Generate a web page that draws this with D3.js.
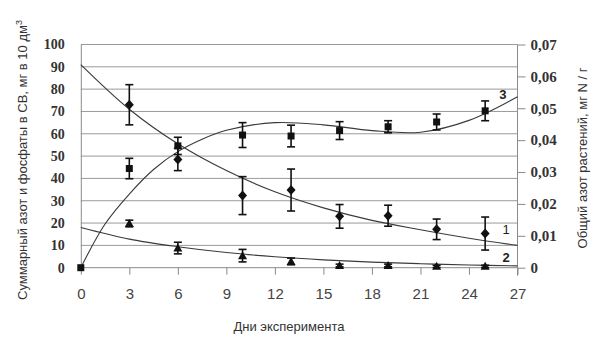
<!DOCTYPE html>
<html>
<head>
<meta charset="utf-8">
<script src="https://cdn.jsdelivr.net/npm/d3@7"></script>
<style>
  body { margin: 0; background: #fff; }
  svg { display: block; }
</style>
</head>
<body>
<script>
const width = 611; const height = 360;
const plotLeft = 80.8, plotRight = 517.5, plotTop = 44.5, plotBottom = 267.7;

// day ticks / y ticks
const xTicks = [0, 3, 6, 9, 12, 15, 18, 21, 24, 27];
const yLeftTicks = [0, 10, 20, 30, 40, 50, 60, 70, 80, 90, 100];
const yRightTicks = [0, 0.01, 0.02, 0.03, 0.04, 0.05, 0.06, 0.07];

// series 1 - diamonds (left axis)
const days1 = [3, 6, 10, 13, 16, 19, 22, 25];
const vals1 = [73, 48.5, 32.3, 34.8, 23, 23.3, 17.2, 15.3];
const err1 = [9, 5, 8.5, 9.4, 5.3, 4.7, 4.6, 7.4];

// series 2 - triangles (left axis)
const days2 = [3, 6, 10, 13, 16, 19, 22, 25];
const vals2 = [19.8, 8.8, 5.4, 2.8, 1, 1, 0.6, 0.6];
const err2 = [1.5, 2.6, 2.8, 1.5, 0.6, 0.6, 0.5, 0.5];

// series 3 - squares (right axis)
const days3 = [0, 3, 6, 10, 13, 16, 19, 22, 25];
const vals3 = [0, 0.0311, 0.0382, 0.0416, 0.0413, 0.043, 0.0442, 0.0457, 0.0492];
const err3 = [0, 0.0032, 0.0027, 0.0039, 0.0034, 0.0028, 0.0019, 0.0025, 0.0031];

// trend lines
const trendX1 = [0, 3, 6, 9, 12, 15, 18, 21, 24, 27];
const trendY1 = [91, 71, 55.5, 43.5, 34, 26.8, 21.2, 17, 13.2, 10];
const trendX2 = [0, 3, 6, 9, 12, 15, 18, 21, 24, 27];
const trendY2 = [18, 12.8, 9.4, 6.8, 4.9, 3.5, 2.5, 1.8, 1.2, 0.8];
const trendX3 = [0, 1.5, 3, 4.5, 6, 7.5, 9, 12, 15, 18, 21, 24, 27];
const trendY3 = [0, 0.0137, 0.0231, 0.0308, 0.0364, 0.0403, 0.0431, 0.0455, 0.0448, 0.0430, 0.0425, 0.0462, 0.0536];

const x = d3.scaleLinear().domain([0, 27]).range([plotLeft, plotRight]);
const yL = d3.scaleLinear().domain([0, 100]).range([plotBottom, plotTop]);
const yR = d3.scaleLinear().domain([0, 0.07]).range([plotBottom, plotTop]);

const svg = d3.select("body").append("svg")
    .attr("width", width)
    .attr("height", height);

// gridlines
svg.append("g")
    .selectAll("line")
    .data(yLeftTicks.slice(1))
    .enter()
    .append("line")
    .attr("x1", plotLeft).attr("x2", plotRight)
    .attr("y1", d => yL(d)).attr("y2", d => yL(d))
    .attr("stroke", "#9a9a9a")
    .attr("stroke-width", 1);

// left axis
const axL = svg.append("g")
    .attr("transform", "translate(" + plotLeft + ",0)")
    .call(d3.axisLeft(yL).tickValues(yLeftTicks).tickSize(0).tickPadding(16));
axL.select(".domain").attr("stroke", "#8a8a8a");
axL.selectAll("text")
    .attr("font-family", "Liberation Serif")
    .attr("font-weight", "bold")
    .attr("font-size", "14px")
    .attr("fill", "#333");

// right axis
const axR = svg.append("g")
    .attr("transform", "translate(" + plotRight + ",0)")
    .call(d3.axisRight(yR).tickValues(yRightTicks).tickSize(8).tickPadding(5)
        .tickFormat(d => d === 0 ? "0" : d3.format(".2f")(d).replace(".", ",")));
axR.select(".domain").attr("stroke", "#8a8a8a").attr("d", "M0," + plotTop + "V" + (plotBottom + 8));
axR.selectAll(".tick line").attr("stroke", "#8a8a8a");
axR.selectAll("text")
    .attr("font-family", "Liberation Serif")
    .attr("font-weight", "bold")
    .attr("font-size", "15px")
    .attr("fill", "#333");

// bottom axis
const axB = svg.append("g")
    .attr("transform", "translate(0," + plotBottom + ")")
    .call(d3.axisBottom(x).tickValues(xTicks).tickSize(7).tickPadding(14));
axB.select(".domain").attr("stroke", "#8a8a8a").attr("d", "M" + plotLeft + ",0H" + plotRight);
axB.selectAll(".tick line").attr("stroke", "#8a8a8a");
axB.selectAll("text")
    .attr("font-family", "Liberation Sans")
    .attr("font-size", "15px")
    .attr("fill", "#444");

// axis titles
svg.append("text")
    .attr("x", 289).attr("y", 331)
    .attr("text-anchor", "middle")
    .attr("font-family", "Liberation Sans")
    .attr("font-size", "13px")
    .attr("fill", "#333")
    .text("Дни эксперимента");

const tl = svg.append("text")
    .attr("transform", "translate(27,160) rotate(-90)")
    .attr("text-anchor", "middle")
    .attr("font-family", "Liberation Sans")
    .attr("font-size", "13px")
    .attr("fill", "#333");
tl.append("tspan").text("Суммарный азот и фосфаты в СВ, мг в 10 дм");
tl.append("tspan").attr("font-size", "9px").attr("dy", "-5").text("3");

svg.append("text")
    .attr("transform", "translate(587,158) rotate(-90)")
    .attr("text-anchor", "middle")
    .attr("font-family", "Liberation Sans")
    .attr("font-size", "13px")
    .attr("fill", "#333")
    .text("Общий азот растений, мг N / г");

// trend lines
function trend(xs, ys, yScale){
    const pts = xs.map((d, i) => [d, ys[i]]);
    svg.append("path")
        .datum(pts)
        .attr("d", d3.line()
            .x(d => x(d[0]))
            .y(d => yScale(d[1]))
            .curve(d3.curveCatmullRom))
        .attr("fill", "none")
        .attr("stroke", "#3a3a3a")
        .attr("stroke-width", 1.1);
}
trend(trendX1, trendY1, yL);
trend(trendX2, trendY2, yL);
trend(trendX3, trendY3, yR);

// error bars
function errorBars(xs, ys, es, yScale){
    const g = svg.append("g").attr("stroke", "#111").attr("stroke-width", 1.6);
    xs.forEach((d, i) => {
        if (!es[i]) return;
        const cx = x(d), y0 = yScale(ys[i] - es[i]), y1 = yScale(ys[i] + es[i]);
        g.append("line").attr("x1", cx).attr("x2", cx).attr("y1", y0).attr("y2", y1);
        g.append("line").attr("x1", cx - 4).attr("x2", cx + 4).attr("y1", y0).attr("y2", y0);
        g.append("line").attr("x1", cx - 4).attr("x2", cx + 4).attr("y1", y1).attr("y2", y1);
    });
}
errorBars(days1, vals1, err1, yL);
errorBars(days2, vals2, err2, yL);
errorBars(days3, vals3, err3, yR);

// markers
svg.append("g").selectAll("path")
    .data(days1)
    .enter()
    .append("path")
    .attr("d", (d, i) => {
        const cx = x(d), cy = yL(vals1[i]);
        return "M" + cx + "," + (cy - 5) + "L" + (cx + 4.5) + "," + cy + "L" + cx + "," + (cy + 5) + "L" + (cx - 4.5) + "," + cy + "Z";
    })
    .attr("fill", "#111");

svg.append("g").selectAll("path")
    .data(days2)
    .enter()
    .append("path")
    .attr("d", (d, i) => {
        const cx = x(d), cy = yL(vals2[i]);
        return "M" + cx + "," + (cy - 4.5) + "L" + (cx + 4.5) + "," + (cy + 3.5) + "L" + (cx - 4.5) + "," + (cy + 3.5) + "Z";
    })
    .attr("fill", "#111");

svg.append("g").selectAll("rect")
    .data(days3)
    .enter()
    .append("rect")
    .attr("x", d => x(d) - 3.5)
    .attr("y", (d, i) => yR(vals3[i]) - 3.5)
    .attr("width", 7)
    .attr("height", 7)
    .attr("fill", "#111");

// curve labels (name, day, value, scale, weight)
const labels = [["3", 26.1, 0.0545, yR, "bold"], ["1", 26.3, 17.3, yL, "normal"], ["2", 26.3, 4.8, yL, "bold"]];
svg.append("g").selectAll("text")
    .data(labels)
    .enter()
    .append("text")
    .attr("x", d => x(d[1]))
    .attr("y", d => d[3](d[2]) + 5)
    .attr("text-anchor", "middle")
    .attr("font-family", "Liberation Sans")
    .attr("font-size", "13px")
    .attr("font-weight", d => d[4])
    .attr("fill", "#222")
    .text(d => d[0]);
</script>
</body>
</html>
